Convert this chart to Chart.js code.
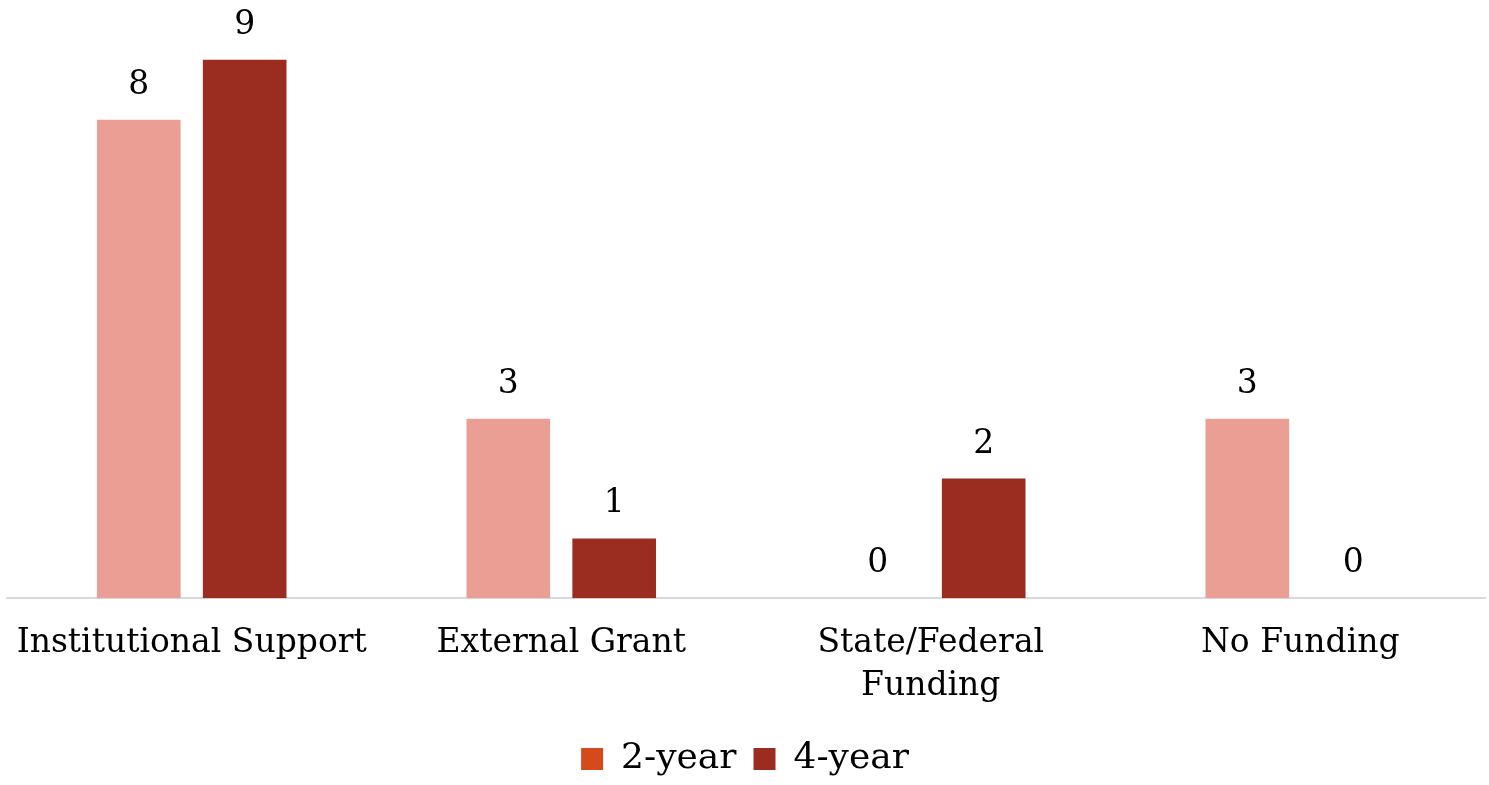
<!DOCTYPE html>
<html>
<head>
<meta charset="utf-8">
<script src="https://cdn.jsdelivr.net/npm/chart.js@4/dist/chart.umd.min.js"></script>
<style>
  html, body { margin: 0; padding: 0; background: #fff; }
  #wrap { width: 1489px; height: 785px; position: relative; }
</style>
</head>
<body>
<div id="wrap"><canvas id="chart"></canvas></div>
<script>
  // --- Data ---
  const categories = [
    "Institutional Support",
    "External Grant",
    ["State/Federal", "Funding"],
    "No Funding",
  ];
  const twoYear = [8, 3, 0, 3];
  const fourYear = [9, 1, 2, 0];
  const seriesNames = ["2-year", "4-year"];

  const FONT = "'DejaVu Serif', 'Liberation Serif', serif";
  const legendColors = ["#D54A1A", "#9A2C20"];

  // draw value labels above each bar
  const valueLabels = {
    id: "valueLabels",
    afterDatasetsDraw(chart) {
      const ctx = chart.ctx;
      ctx.save();
      ctx.font = `33px ${FONT}`;
      ctx.fillStyle = "#000";
      ctx.textAlign = "center";
      ctx.textBaseline = "bottom";
      chart.data.datasets.forEach((ds, i) => {
        const meta = chart.getDatasetMeta(i);
        meta.data.forEach((bar, j) => {
          ctx.fillText(String(ds.data[j]), bar.x, bar.y - 18);
        });
      });
      ctx.restore();
    },
  };

  new Chart(document.getElementById("chart"), {
    type: "bar",
    data: {
      labels: categories,
      datasets: [
        { label: seriesNames[0], data: twoYear, backgroundColor: "#EA9E94" },
        { label: seriesNames[1], data: fourYear, backgroundColor: "#9A2C20" },
      ],
    },
    options: {
      responsive: true,
      maintainAspectRatio: false,
      animation: false,
      categoryPercentage: 0.573,
      barPercentage: 0.79,
      layout: { padding: { left: 5, right: 4, top: 0, bottom: 0 } },
      plugins: {
        tooltip: { enabled: false },
        legend: {
          position: "bottom",
          maxHeight: 61,
          labels: {
            color: "#000",
            font: { family: FONT, size: 36 },
            boxWidth: 22,
            boxHeight: 22,
            padding: 17,
            generateLabels: (chart) =>
              chart.data.datasets.map((ds, i) => ({
                text: ds.label,
                fillStyle: legendColors[i],
                strokeStyle: legendColors[i],
                lineWidth: 0,
                datasetIndex: i,
              })),
          },
        },
      },
      scales: {
        x: {
          grid: { display: false },
          border: { display: true, color: "#d9d9d9", width: 2 },
          ticks: {
            color: "#000",
            font: { family: FONT, size: 33, lineHeight: 1.3 },
            maxRotation: 0,
            padding: 16,
          },
        },
        y: {
          display: false,
          min: 0,
          max: 10,
        },
      },
    },
    plugins: [valueLabels],
  });
</script>
</body>
</html>
